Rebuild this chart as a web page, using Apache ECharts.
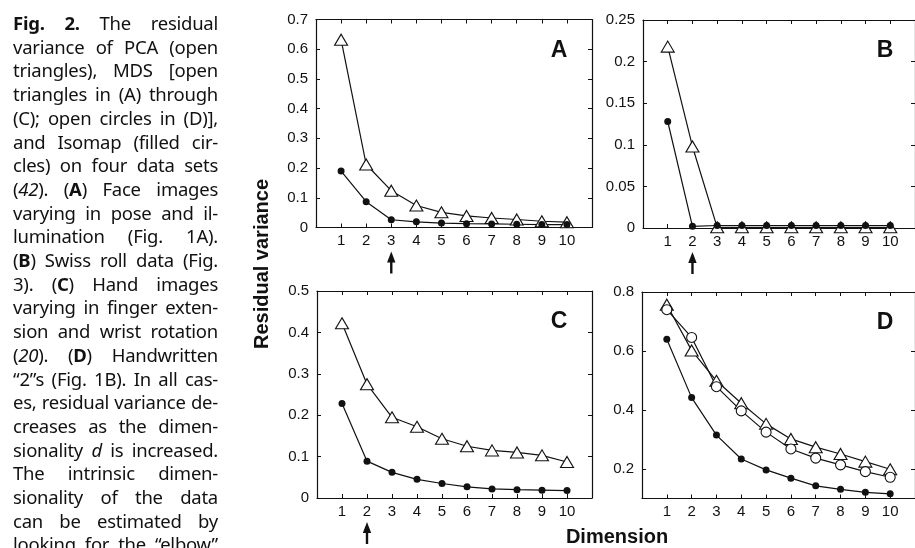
<!DOCTYPE html>
<html lang="en">
<head>
<meta charset="UTF-8">
<title>Fig. 2 - Residual variance</title>
<script src="https://cdn.jsdelivr.net/npm/echarts@6.0.0/dist/echarts.min.js"></script>
<style>
    html, body {
        margin: 0;
        padding: 0;
        background: #fff;
    }
    #chart {
        position: absolute;
        left: 0;
        top: 0;
        width: 915px;
        height: 548px;
    }
    .caption {
        position: absolute;
        left: 13px;
        top: 11px;
        width: 205px;
        font-family: "Noto Sans", "Open Sans", sans-serif;
        font-size: 18.5px;
        letter-spacing: -0.25px;
        line-height: 23.7px;
        color: #111;
        z-index: 2;
    }
    .caption div {
        white-space: nowrap;
        text-align: justify;
        text-align-last: justify;
    }
</style>
</head>
<body>
<div id="chart"></div>
<div class="caption">
    <div><b>Fig. 2.</b> The residual</div>
    <div>variance of PCA (open</div>
    <div>triangles), MDS [open</div>
    <div>triangles in (A) through</div>
    <div>(C); open circles in (D)],</div>
    <div>and Isomap (filled cir-</div>
    <div>cles) on four data sets</div>
    <div>(<i>42</i>). (<b>A</b>) Face images</div>
    <div>varying in pose and il-</div>
    <div>lumination (Fig. 1A).</div>
    <div>(<b>B</b>) Swiss roll data (Fig.</div>
    <div>3). (<b>C</b>) Hand images</div>
    <div>varying in finger exten-</div>
    <div>sion and wrist rotation</div>
    <div>(<i>20</i>). (<b>D</b>) Handwritten</div>
    <div>“2”s (Fig. 1B). In all cas-</div>
    <div>es, residual variance de-</div>
    <div>creases as the dimen-</div>
    <div>sionality <i>d</i> is increased.</div>
    <div>The intrinsic dimen-</div>
    <div>sionality of the data</div>
    <div>can be estimated by</div>
    <div>looking for the “elbow”</div>
</div>

<script>
    // dimensions on the x axis
    const dims = [1, 2, 3, 4, 5, 6, 7, 8, 9, 10];
    const xTicks = [1, 2, 3, 4, 5, 6, 7, 8, 9, 10];

    // (A) face images
    const pcaA = [0.632, 0.212, 0.124, 0.074, 0.051, 0.039, 0.032, 0.027, 0.021, 0.018];
    const isoA = [0.190, 0.087, 0.026, 0.019, 0.015, 0.013, 0.012, 0.011, 0.010, 0.010];

    // (B) swiss roll
    const pcaB = [0.218, 0.098, 0.0008, 0.0008, 0.0008, 0.0008, 0.0008, 0.0008, 0.0008, 0.0008];
    const isoB = [0.128, 0.002, 0.003, 0.003, 0.003, 0.003, 0.003, 0.003, 0.003, 0.003];

    // (C) hand images
    const pcaC = [0.422, 0.275, 0.195, 0.172, 0.143, 0.125, 0.115, 0.110, 0.103, 0.087];
    const isoC = [0.228, 0.089, 0.062, 0.045, 0.035, 0.027, 0.022, 0.020, 0.019, 0.018];

    // (D) handwritten 2s
    const pcaD = [0.757, 0.602, 0.499, 0.423, 0.353, 0.302, 0.274, 0.251, 0.225, 0.199];
    const mdsD = [0.740, 0.646, 0.479, 0.397, 0.325, 0.268, 0.237, 0.214, 0.191, 0.172];
    const isoD = [0.640, 0.442, 0.315, 0.234, 0.197, 0.169, 0.143, 0.131, 0.121, 0.116];

    // y ticks
    const yTicksA = [0, 0.1, 0.2, 0.3, 0.4, 0.5, 0.6, 0.7];
    const yTicksB = [0, 0.05, 0.1, 0.15, 0.2, 0.25];
    const yTicksC = [0, 0.1, 0.2, 0.3, 0.4, 0.5];
    const yTicksD = [0.2, 0.4, 0.6, 0.8];

    // intrinsic dimension ("elbow") marked with an arrow, null = none
    const elbows = [3, 2, 2, null];

    const FONT = '"Liberation Sans", Arial, Helvetica, sans-serif';
    const INK = '#111';

    const panels = [
        { letter: 'A', grid: { left: 316, top: 19.5, width: 276, height: 208 },
          yMin: 0, yMax: 0.7, yTicks: yTicksA, triangles: [pcaA], circles: [], dots: isoA },
        { letter: 'B', grid: { left: 643, top: 20, width: 275, height: 208 },
          yMin: 0, yMax: 0.25, yTicks: yTicksB, triangles: [pcaB], circles: [], dots: isoB },
        { letter: 'C', grid: { left: 317, top: 291, width: 275, height: 207 },
          yMin: 0, yMax: 0.5, yTicks: yTicksC, triangles: [pcaC], circles: [], dots: isoC },
        { letter: 'D', grid: { left: 642, top: 292, width: 276, height: 206.5 },
          yMin: 0.1, yMax: 0.8, yTicks: yTicksD, triangles: [pcaD], circles: [mdsD], dots: isoD }
    ];

    const chart = echarts.init(document.getElementById('chart'), null, { renderer: 'canvas' });

    function pairs(vals) {
        return dims.map((d, i) => [d, vals[i]]);
    }

    const grids = [], xAxes = [], yAxes = [], series = [], graphics = [];

    panels.forEach((p, i) => {
        grids.push(p.grid);
        const lineStyle = { color: INK, width: 1.2 };
        const tick = { show: true, inside: true, length: 4, lineStyle: { color: INK, width: 1 } };

        ['bottom', 'top'].forEach(pos => {
            xAxes.push({
                type: 'value', gridIndex: i, position: pos, min: 0, max: 11,
                axisLine: { show: true, onZero: false, lineStyle },
                axisTick: Object.assign({ customValues: xTicks }, tick),
                axisLabel: {
                    show: pos === 'bottom', customValues: xTicks, margin: 6,
                    color: INK, fontSize: 15, fontFamily: FONT
                },
                splitLine: { show: false }
            });
        });
        ['left', 'right'].forEach(pos => {
            yAxes.push({
                type: 'value', gridIndex: i, position: pos, min: p.yMin, max: p.yMax,
                axisLine: { show: true, onZero: false, lineStyle },
                axisTick: Object.assign({ customValues: p.yTicks }, tick),
                axisLabel: {
                    show: pos === 'left', customValues: p.yTicks, margin: 8,
                    color: INK, fontSize: 15, fontFamily: FONT,
                    formatter: v => String(+v.toFixed(3))
                },
                splitLine: { show: false }
            });
        });

        const base = { type: 'line', xAxisIndex: 2 * i, yAxisIndex: 2 * i, silent: true,
                       lineStyle: { color: INK, width: 1.2 }, animation: false };
        p.triangles.forEach(vals => series.push(Object.assign({}, base, {
            data: pairs(vals), symbol: 'triangle', symbolSize: [13, 11],
            itemStyle: { color: '#fff', borderColor: INK, borderWidth: 1.1 }
        })));
        p.circles.forEach(vals => series.push(Object.assign({}, base, {
            data: pairs(vals), symbol: 'circle', symbolSize: 10,
            itemStyle: { color: '#fff', borderColor: INK, borderWidth: 1.1 }
        })));
        series.push(Object.assign({}, base, {
            data: pairs(p.dots), symbol: 'circle', symbolSize: 7,
            itemStyle: { color: INK, borderWidth: 0 }
        }));

        // panel letter
        graphics.push({
            type: 'text',
            x: p.grid.left + p.grid.width - 33,
            y: p.grid.top + 31,
            style: { text: p.letter, font: 'bold 23px ' + FONT, fill: INK,
                     textAlign: 'center', textVerticalAlign: 'middle' }
        });
    });

    graphics.push({
        type: 'text', x: 262, y: 264, rotation: Math.PI / 2,
        style: { text: 'Residual variance', font: 'bold 20px ' + FONT, fill: INK,
                 textAlign: 'center', textVerticalAlign: 'middle' }
    });
    graphics.push({
        type: 'text', x: 617, y: 537,
        style: { text: 'Dimension', font: 'bold 20px ' + FONT, fill: INK,
                 textAlign: 'center', textVerticalAlign: 'middle' }
    });

    chart.setOption({
        animation: false,
        backgroundColor: '#fff',
        grid: grids,
        xAxis: xAxes,
        yAxis: yAxes,
        series: series,
        graphic: graphics
    });

    // arrows under the elbow dimension, placed through the axis scales
    panels.forEach((p, i) => {
        if (elbows[i] == null) return;
        const x = chart.convertToPixel({ xAxisIndex: 2 * i }, elbows[i]);
        const y0 = chart.convertToPixel({ yAxisIndex: 2 * i }, p.yMin);
        graphics.push({
            type: 'group',
            children: [
                { type: 'rect', shape: { x: x - 1.2, y: y0 + 31, width: 2.4, height: 15 },
                  style: { fill: INK } },
                { type: 'polygon', shape: { points: [[x, y0 + 24], [x - 4.2, y0 + 35], [x + 4.2, y0 + 35]] },
                  style: { fill: INK } }
            ]
        });
    });
    chart.setOption({ graphic: graphics });
</script>
</body>
</html>
